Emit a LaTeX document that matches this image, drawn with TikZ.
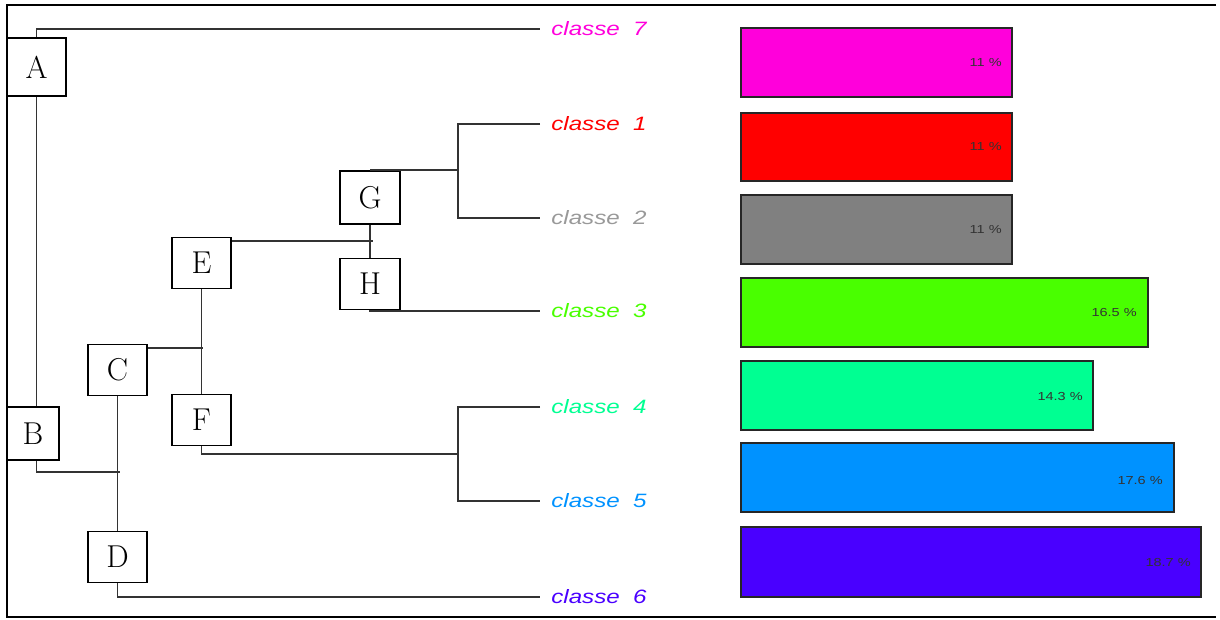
\documentclass[tikz,border=0pt]{standalone}
\usepackage{fontspec}
\newfontfamily\rsans{Liberation Sans}
\usetikzlibrary{positioning}

\definecolor{col1}{HTML}{FF0000}
\definecolor{col2}{HTML}{808080}
\definecolor{txt2}{HTML}{999999}
\definecolor{col3}{HTML}{49FF00}
\definecolor{col4}{HTML}{00FF92}
\definecolor{col5}{HTML}{0092FF}
\definecolor{col6}{HTML}{4900FF}
\definecolor{col7}{HTML}{FF00DB}
\newcommand{\wide}[1]{\scalebox{1.25}[1]{#1}}

\begin{document}
\begin{tikzpicture}[x=0.02cm,y=-0.02cm,
	box/.style={draw,line width=1.1pt,fill=white,minimum width=1.18cm,
		minimum height=1.02cm,inner sep=0pt,font=\fontsize{18}{20}\selectfont},
	leaf/.style={anchor=west,inner xsep=0.22cm,inner ysep=0pt,
		font=\rsans\itshape\fontsize{11}{12}\selectfont},
	link/.style={draw=black!80,line width=1pt},
	bar/.style={draw=black!85,line width=0.9pt},
	pct/.style={anchor=east,inner sep=0pt,text=black!80,
		font=\rsans\fontsize{6.6}{8}\selectfont}]
	\useasboundingbox (0,0) rectangle (1220,619);
	% frame
	\draw[line width=1.2pt] (1216,5) -- (7,5) -- (7,617) -- (1216,617);

	% boxes
	\node[box,minimum height=1.16cm] (A) at (36.5,67) {A};
	\node[box,minimum width=1.04cm,minimum height=1.06cm] (B) at (33,433.5) {B};
	\node[box] (C) at (117.5,370) {C};
	\node[box] (D) at (117.5,557) {D};
	\node[box] (E) at (201.5,263) {E};
	\node[box] (F) at (201.5,420) {F};
	\node[box,minimum width=1.2cm,minimum height=1.06cm] (G) at (370,197.5) {G};
	\node[box,minimum width=1.2cm] (H) at (370,284) {H};

	% leaves
	\node[leaf,text=col7] (c7) at (540,29) {\wide{classe~~7}};
	\node[leaf,text=col1] (c1) at (540,124) {\wide{classe~~1}};
	\node[leaf,text=txt2] (c2) at (540,218) {\wide{classe~~2}};
	\node[leaf,text=col3] (c3) at (540,311) {\wide{classe~~3}};
	\node[leaf,text=col4] (c4) at (540,407) {\wide{classe~~4}};
	\node[leaf,text=col5] (c5) at (540,501) {\wide{classe~~5}};
	\node[leaf,text=col6] (c6) at (540,597) {\wide{classe~~6}};

	\coordinate (bcd) at (120,472);
	\coordinate (cef) at (203,348);
	\coordinate (egh) at (373,241);
	\coordinate (g12) at (458,170);
	\coordinate (f45) at (458,454);

	% tree
	\draw[link] (A.north) |- (c7.west);
	\draw[link] (A.south) -- (A.south |- B.north);
	\draw[link] (A.south |- B.south) |- (bcd);
	\draw[link] (C.south) -- (D.north);
	\draw[link] (D.south) |- (c6.west);
	\draw[link] (cef -| C.east) -- (cef);
	\draw[link] (E.south) -- (F.north);
	\draw[link] (egh -| E.east) -- (egh);
	\draw[link] (G.south) -- (H.north);
	\draw[link] (G.north) -- (g12);
	\draw[link] (c1.west) -| (g12) |- (c2.west);
	\draw[link] (H.south) |- (c3.west);
	\draw[link] (F.south) |- (f45);
	\draw[link] (c4.west) -| (f45) |- (c5.west);

	% bars
	\draw[bar,fill=col7] (741,28) rectangle (1012,97);
	\node[pct] (p7) at (1002,63) {\wide{11 \%}};
	\draw[bar,fill=col1] (741,113) rectangle (1012,181);
	\node[pct] (p1) at (1002,147) {\wide{11 \%}};
	\draw[bar,fill=col2] (741,195) rectangle (1012,264);
	\node[pct] (p2) at (1002,230) {\wide{11 \%}};
	\draw[bar,fill=col3] (741,278) rectangle (1148,347);
	\node[pct] (p3) at (1137,313) {\wide{16.5 \%}};
	\draw[bar,fill=col4] (741,361) rectangle (1093,430);
	\node[pct] (p4) at (1083,397) {\wide{14.3 \%}};
	\draw[bar,fill=col5] (741,443) rectangle (1174,512);
	\node[pct] (p5) at (1163,480) {\wide{17.6 \%}};
	\draw[bar,fill=col6] (741,527) rectangle (1201,597);
	\node[pct] (p6) at (1191,562) {\wide{18.7 \%}};
\end{tikzpicture}
\end{document}
